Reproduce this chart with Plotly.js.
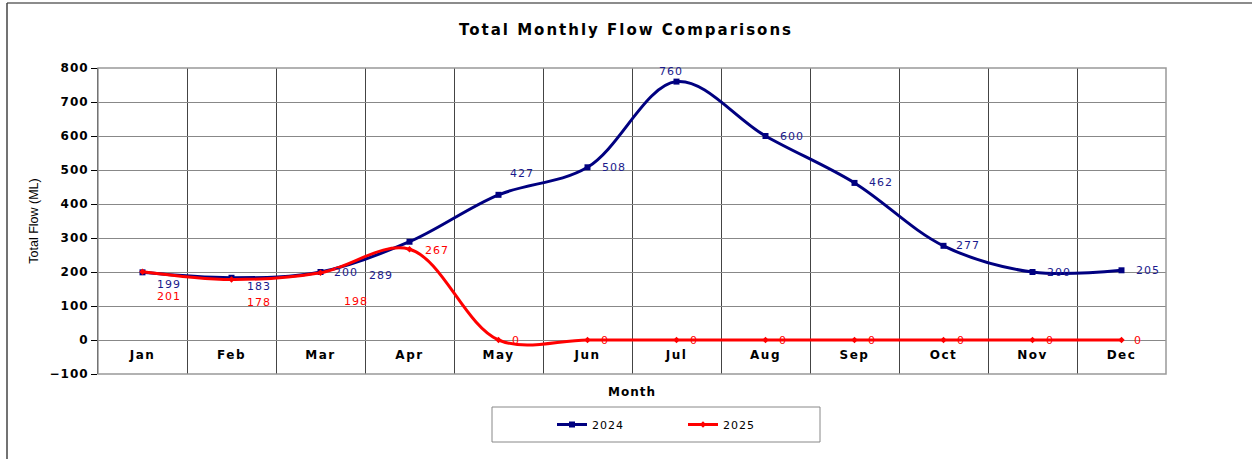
<!DOCTYPE html>
<html>
<head>
<meta charset="utf-8">
<script src="https://cdn.plot.ly/plotly-3.0.1.min.js"></script>
<style>
  html, body { margin: 0; padding: 0; background: #fff; }
  #chart { width: 1252px; height: 459px; }
  .xtick text { letter-spacing: 1.5px; }
  .ytick text { letter-spacing: 1px; }
  .gtitle { letter-spacing: 2px; }
  .annotation-text { letter-spacing: 1px; }
  .legendtext { letter-spacing: 1px; }
</style>
</head>
<body>
<div id="chart"></div>
<script>
// ---- data ----
const months = ["Jan","Feb","Mar","Apr","May","Jun","Jul","Aug","Sep","Oct","Nov","Dec"];
const flow2024 = [199, 183, 200, 289, 427, 508, 760, 600, 462, 277, 200, 205];
const flow2025 = [201, 178, 198, 267, 0, 0, 0, 0, 0, 0, 0, 0];
const seriesNames = ["2024", "2025"];

// ---- label offsets (pixels) ----
const off2024 = [[26,-12],[27,-9],[25,0],[-29,-34],[23,21],[26,0],[-6,10],[26,0],[26,0],[24,0],[26,0],[26,0]];
const off2025 = [[26,-25],[27,-23],[35,-29],[27,-1],[17,0],[17,0],[17,0],[17,0],[17,0],[17,0],[17,0],[16,0]];

const W = 1252, H = 459;
const M = {l: 98, r: 86, t: 68, b: 85};
const PW = W - M.l - M.r, PH = H - M.t - M.b;
const px = x => (x - M.l) / PW;
const py = y => (H - M.b - y) / PH;

const navy = "#000080", red = "#ff0000";
const labelFont = "DejaVu Sans, Verdana, sans-serif";

const traces = [
  {
    x: months, y: flow2024, name: seriesNames[0], type: "scatter", mode: "lines+markers",
    line: {color: navy, width: 3, shape: "spline", smoothing: 1},
    marker: {symbol: "square", size: 6, color: navy}
  },
  {
    x: months, y: flow2025, name: seriesNames[1], type: "scatter", mode: "lines+markers",
    line: {color: red, width: 3, shape: "spline", smoothing: 1},
    marker: {symbol: "diamond", size: 5, color: red}
  }
];

const annotations = [];
months.forEach((m, i) => {
  annotations.push({x: m, y: flow2024[i], xref: "x", yref: "y", text: String(flow2024[i]),
    showarrow: false, xshift: off2024[i][0], yshift: off2024[i][1],
    font: {family: labelFont, size: 11, color: "#1a1a8c"}});
  annotations.push({x: m, y: flow2025[i], xref: "x", yref: "y", text: String(flow2025[i]),
    showarrow: false, xshift: off2025[i][0], yshift: off2025[i][1],
    font: {family: labelFont, size: 11, color: red}});
});
annotations.push({x: 0.5, y: py(392), xref: "paper", yref: "paper", yanchor: "middle",
  text: "<b>Month</b>", showarrow: false,
  font: {family: labelFont, size: 12, color: "#000"}});

const shapes = [
  // plot border
  {type: "rect", xref: "paper", yref: "paper", x0: 0, x1: 1, y0: 0, y1: 1,
   line: {color: "#999", width: 1.5}, layer: "above"},
  // legend box
  {type: "rect", xref: "paper", yref: "paper", x0: px(492), x1: px(820), y0: py(407), y1: py(442),
   line: {color: "#888", width: 1}},
  // outer frame
  {type: "line", xref: "paper", yref: "paper", x0: px(7), x1: px(1252), y0: py(3), y1: py(3),
   line: {color: "#666", width: 1.5}},
  {type: "line", xref: "paper", yref: "paper", x0: px(7), x1: px(7), y0: py(3), y1: py(459),
   line: {color: "#444", width: 1.5}}
];

const layout = {
  width: W, height: H,
  margin: M,
  paper_bgcolor: "#fff", plot_bgcolor: "#fff",
  showlegend: true,
  title: {text: "<b>Total Monthly Flow Comparisons</b>", x: 0.5, xref: "container",
          y: 1 - 30 / H, yref: "container", yanchor: "middle",
          font: {family: labelFont, size: 15, color: "#000"}},
  xaxis: {
    type: "category", range: [-0.5, 11.5], tickson: "boundaries",
    showgrid: true, gridcolor: "#444", gridwidth: 1,
    ticks: "", showline: false, zeroline: false,
    anchor: "free", position: 100 / 900, ticklabelstandoff: 6,
    tickfont: {family: labelFont, size: 12, color: "#000", weight: "bold"},
    fixedrange: true
  },
  yaxis: {
    range: [-100, 800], dtick: 100, tick0: 0,
    showline: true, linecolor: "#000", linewidth: 1,
    ticks: "outside", ticklen: 6, tickcolor: "#000",
    showgrid: true, gridcolor: "#888", gridwidth: 1,
    zeroline: true, zerolinecolor: "#888", zerolinewidth: 1,
    tickfont: {family: labelFont, size: 12, color: "#000", weight: "bold"},
    title: {text: "Total Flow (ML)", standoff: 8,
            font: {family: "Liberation Sans, Arial, sans-serif", size: 12.5, color: "#000"}},
    fixedrange: true
  },
  legend: {
    orientation: "h", x: px(552), xanchor: "left", y: py(424.5), yanchor: "middle",
    bgcolor: "rgba(0,0,0,0)", borderwidth: 0,
    entrywidth: 86, entrywidthmode: "pixels",
    font: {family: labelFont, size: 11, color: "#000"}
  },
  annotations: annotations,
  shapes: shapes
};

Plotly.newPlot("chart", traces, layout, {displayModeBar: false, staticPlot: true});
</script>
</body>
</html>
